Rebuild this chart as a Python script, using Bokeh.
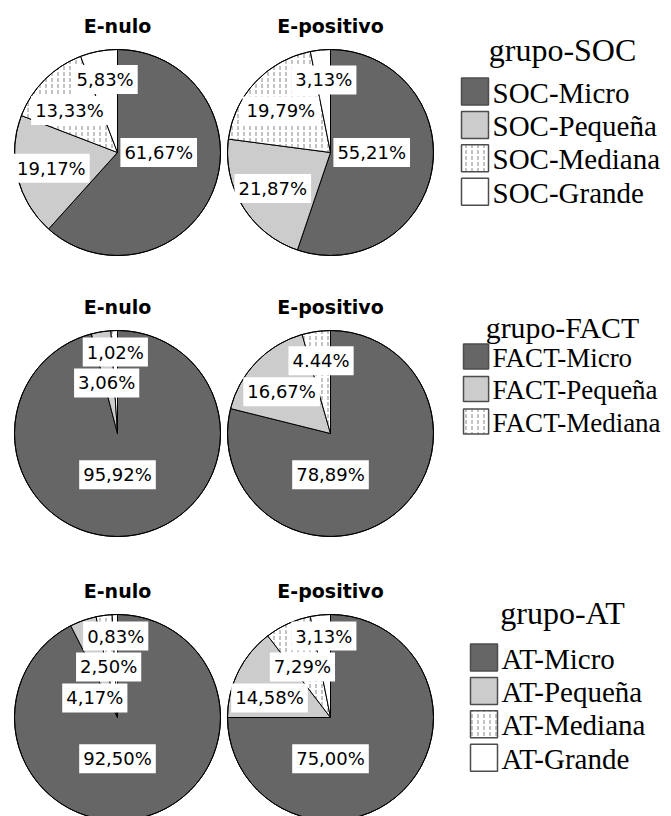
import math
from bokeh.plotting import figure
from bokeh.models import Range1d, ColumnDataSource
from bokeh.core.properties import value
from bokeh.embed import file_html
from bokeh.resources import INLINE

# ---------------- data ----------------
panel_titles = ["E-nulo", "E-positivo"]
legend_titles = ["grupo-SOC", "grupo-FACT", "grupo-AT"]

soc_categories = ["SOC-Micro", "SOC-Pequeña", "SOC-Mediana", "SOC-Grande"]
soc_e_nulo = [61.67, 19.17, 13.33, 5.83]
soc_e_positivo = [55.21, 21.87, 19.79, 3.13]
soc_e_nulo_labels = ["61,67%", "19,17%", "13,33%", "5,83%"]
soc_e_positivo_labels = ["55,21%", "21,87%", "19,79%", "3,13%"]

fact_categories = ["FACT-Micro", "FACT-Pequeña", "FACT-Mediana"]
fact_e_nulo = [95.92, 3.06, 1.02]
fact_e_positivo = [78.89, 16.67, 4.44]
fact_e_nulo_labels = ["95,92%", "3,06%", "1,02%"]
fact_e_positivo_labels = ["78,89%", "16,67%", "4.44%"]

at_categories = ["AT-Micro", "AT-Pequeña", "AT-Mediana", "AT-Grande"]
at_e_nulo = [92.50, 4.17, 2.50, 0.83]
at_e_positivo = [75.00, 14.58, 7.29, 3.13]
at_e_nulo_labels = ["92,50%", "4,17%", "2,50%", "0,83%"]
at_e_positivo_labels = ["75,00%", "14,58%", "7,29%", "3,13%"]

rows = [
    (soc_categories, [soc_e_nulo, soc_e_positivo], [soc_e_nulo_labels, soc_e_positivo_labels]),
    (fact_categories, [fact_e_nulo, fact_e_positivo], [fact_e_nulo_labels, fact_e_positivo_labels]),
    (at_categories, [at_e_nulo, at_e_positivo], [at_e_nulo_labels, at_e_positivo_labels]),
]

# ---------------- style / layout ----------------
FILLS = ["#666666", "#cccccc", "white", "white"]
HATCH = [" ", " ", ":", " "]
W, H = 671, 816
R = 103
PIE_CX = [117, 330]            # page pixel coords
PIE_CY = [152, 433, 717]
LEG_CX = [562, 562, 562]
LEG_TITLE_Y = [49, 327, 612]
LEG_ITEM_Y0 = [91, 356, 657]
LEG_STEP = [33.4, 32.5, 33.4]
LEG_BOX_LEFT = [461, 463, 470]
LEG_SCALE = [1.0, 0.93, 1.0]
BOX = 27


def fx(x):
    return x


def fy(y):
    return H - y


p = figure(width=W, height=H, output_backend="svg", toolbar_location=None,
           x_range=Range1d(0, W), y_range=Range1d(0, H), min_border=0,
           x_axis_location=None, y_axis_location=None)
p.grid.visible = False
p.outline_line_color = None
p.background_fill_color = "white"


def text_width(s, size=18):
    w = 0
    for ch in s:
        if ch.isdigit():
            w += 0.636
        elif ch in ",.":
            w += 0.318
        elif ch == "%":
            w += 0.95
        else:
            w += 0.6
    return w * size


PAD = 4
LBL_H = 31

for r_i, (cats, series, labels) in enumerate(rows):
    cy = PIE_CY[r_i]
    for c_i, vals in enumerate(series):
        cx = PIE_CX[c_i]
        total = float(sum(vals))
        starts, ends, fills, hatches = [], [], [], []
        cum = 0.0
        mids = []
        for k, v in enumerate(vals):
            a0 = cum / total
            cum += v
            a1 = cum / total
            starts.append(math.pi / 2 - 2 * math.pi * a0)
            ends.append(math.pi / 2 - 2 * math.pi * a1)
            fills.append(FILLS[k])
            hatches.append(HATCH[k])
            mids.append((a0 + a1) / 2 * 360)
        src = ColumnDataSource(dict(x=[fx(cx)] * len(vals), y=[fy(cy)] * len(vals),
                                    start=starts, end=ends, fill=fills, hatch=hatches))
        p.wedge(x="x", y="y", radius=R, start_angle="start", end_angle="end",
                direction="clock", source=src, fill_color="fill", line_color="black",
                line_width=1, hatch_pattern="hatch", hatch_color="#888888",
                hatch_scale=6, hatch_weight=1)
        p.circle(x=[fx(cx)], y=[fy(cy)], radius=R, fill_color=None,
                 line_color="black", line_width=1)

        # label placement (screen coords, y down), simple vertical repel
        big = max(range(len(vals)), key=lambda i: vals[i])
        items = []
        for k, v in enumerate(vals):
            if k == big:
                ang = 90 * math.floor(mids[k] / 90 + 0.5)
                rr = 0.40 * R
            else:
                ang = mids[k]
                rr = 0.66 * R
            lx = cx + rr * math.sin(math.radians(ang))
            ly = cy - rr * math.cos(math.radians(ang))
            items.append([lx, ly, text_width(labels[c_i][k]) + 2 * PAD])
        rank = {k: i for i, k in enumerate(sorted(range(len(items)),
                                                  key=lambda k: (items[k][1], -k)))}
        top_limit = cy - R + 6 + LBL_H / 2
        for _ in range(400):
            moved = False
            for a in range(len(items)):
                for b in range(a + 1, len(items)):
                    A, B = items[a], items[b]
                    if abs(A[0] - B[0]) < (A[2] + B[2]) / 2 and abs(A[1] - B[1]) < LBL_H - 0.01:
                        up, dn = (A, B) if rank[a] < rank[b] else (B, A)
                        d = (LBL_H - (dn[1] - up[1])) / 2
                        up[1] -= d
                        dn[1] += d
                        moved = True
            for it in items:
                if it[1] < top_limit:
                    it[1] = top_limit
            if not moved:
                break
        lsrc = ColumnDataSource(dict(x=[fx(it[0]) for it in items],
                                     y=[fy(it[1]) for it in items],
                                     text=list(labels[c_i])))
        p.text(x="x", y="y", text="text", source=lsrc, text_font=value("DejaVu Sans"),
               text_font_size="18px", text_align="center", text_baseline="middle",
               text_color="black", background_fill_color="white", padding=PAD)

        # panel title
        p.text(x=[fx(cx)], y=[fy(cy - 127)], text=[panel_titles[c_i]],
               text_font=value("DejaVu Sans"), text_font_style="bold",
               text_font_size="19px", text_align="center", text_baseline="middle",
               text_color="black")

    # legend
    s = LEG_SCALE[r_i]
    box = BOX * s
    p.text(x=[fx(LEG_CX[r_i])], y=[fy(LEG_TITLE_Y[r_i])], text=[legend_titles[r_i]],
           text_font=value("Liberation Serif"), text_font_size=f"{32 * s:.1f}px",
           text_align="center", text_baseline="middle", text_color="black")
    n = len(cats)
    bx = LEG_BOX_LEFT[r_i]
    ys = [LEG_ITEM_Y0[r_i] + k * LEG_STEP[r_i] for k in range(n)]
    lg = ColumnDataSource(dict(x=[fx(bx + box / 2)] * n, y=[fy(y) for y in ys],
                               tx=[fx(bx + box + 4)] * n, ty=[fy(y + 1) for y in ys],
                               fill=FILLS[:n], hatch=HATCH[:n], text=list(cats)))
    p.rect(x="x", y="y", width=box, height=box, source=lg, fill_color="fill",
           line_color="#4d4d4d", line_width=1.5, hatch_pattern="hatch",
           hatch_color="#888888", hatch_scale=6, hatch_weight=1)
    p.text(x="tx", y="ty", text="text", source=lg, text_font=value("Liberation Serif"),
           text_font_size=f"{29 * s:.1f}px", text_align="left", text_baseline="middle",
           text_color="black")

open("out.html", "w").write(file_html(p, INLINE))
